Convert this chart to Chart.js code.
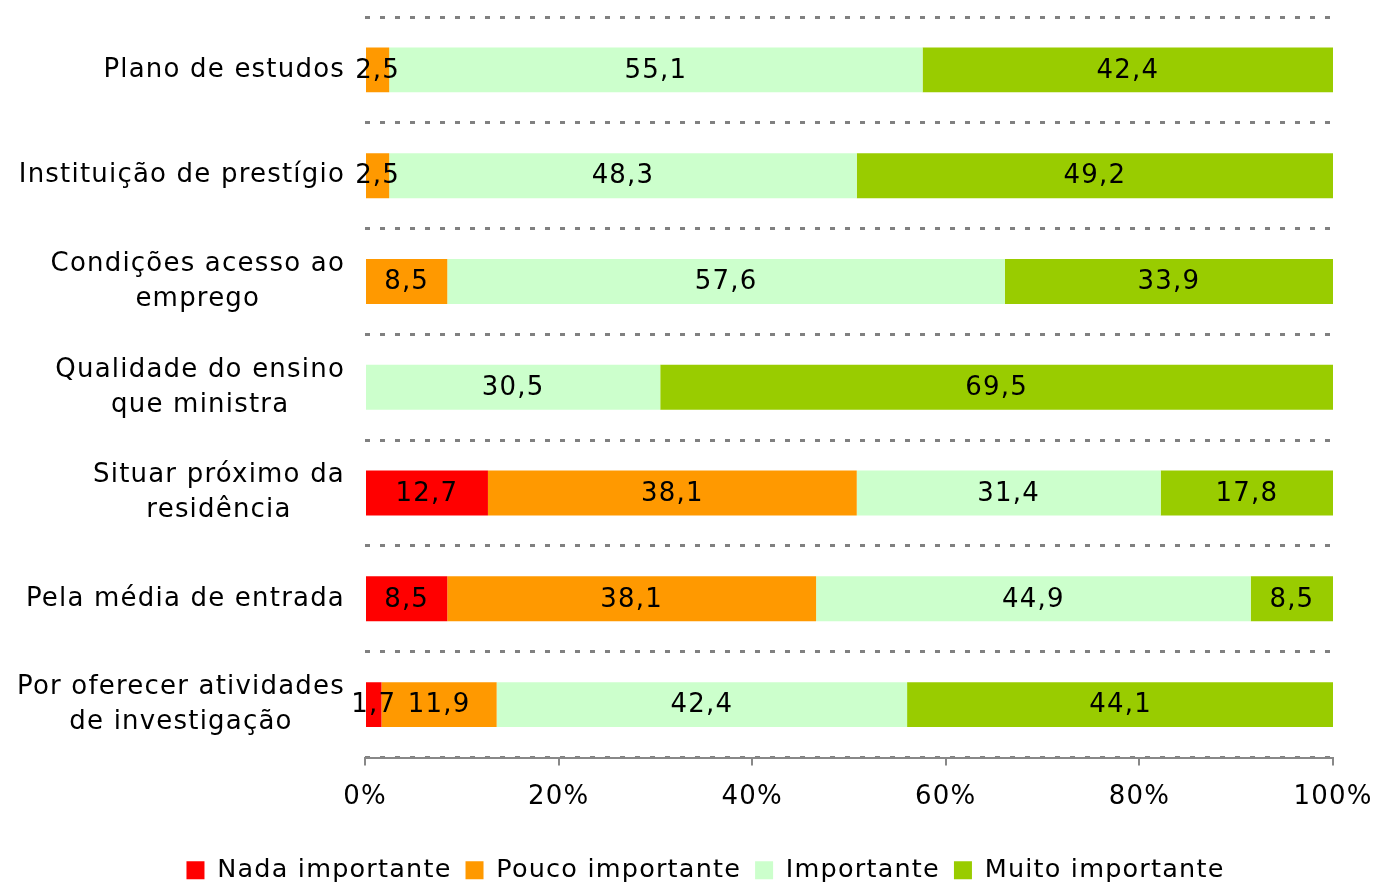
<!DOCTYPE html>
<html>
<head>
<meta charset="utf-8">
<script src="https://cdn.jsdelivr.net/npm/chart.js@4"></script>
<style>
  html, body { margin: 0; padding: 0; background: #fff; overflow: hidden; }
  #wrap { width: 1377px; height: 883px; }
</style>
</head>
<body>
<div id="wrap"><canvas id="chart"></canvas></div>
<script>
// categories (multi-line labels) and the share of answers per level (%)
const categories = [
    ['Plano de estudos'],
    ['Instituição de prestígio'],
    ['Condições acesso ao', 'emprego'],
    ['Qualidade do ensino', 'que ministra'],
    ['Situar próximo da', 'residência'],
    ['Pela média de entrada'],
    ['Por oferecer atividades', 'de investigação']
];
const seriesNames = ['Nada importante', 'Pouco importante', 'Importante', 'Muito importante'];
const nada = [0, 0, 0, 0, 12.7, 8.5, 1.7];
const pouco = [2.5, 2.5, 8.5, 0, 38.1, 38.1, 11.9];
const importante = [55.1, 48.3, 57.6, 30.5, 31.4, 44.9, 42.4];
const muito = [42.4, 49.2, 33.9, 69.5, 17.8, 8.5, 44.1];
const xTicks = [0, 20, 40, 60, 80, 100];

const colors = ['#FF0000', '#FF9900', '#CCFFCC', '#99CC00'];
const FONT = "'DejaVu Sans', Verdana, sans-serif";

// spacing like the original's Verdana text
const spacing = {
    id: 'spacing',
    beforeUpdate(chart) { chart.ctx.letterSpacing = '1.2px'; },
    beforeDraw(chart) { chart.ctx.letterSpacing = '1.2px'; },
    afterLayout(chart) {
        // the legend sits a little right of the canvas centre
        chart.legend.left += 39;
        chart.legend.right += 39;
    }
};

// value labels in the middle of each segment, comma decimals
const valueLabels = {
    id: 'valueLabels',
    afterDatasetsDraw(chart) {
        const ctx = chart.ctx;
        ctx.save();
        ctx.font = '26px ' + FONT;
        ctx.fillStyle = '#000';
        ctx.textAlign = 'center';
        ctx.textBaseline = 'middle';
        chart.data.datasets.forEach((ds, i) => {
            const meta = chart.getDatasetMeta(i);
            meta.data.forEach((bar, j) => {
                const v = ds.data[j];
                if (!v) return;
                const x = (bar.x + bar.base) / 2;
                ctx.fillText(v.toFixed(1).replace('.', ','), x, bar.y + 1);
            });
        });
        ctx.restore();
    }
};

// category labels: block right-aligned to the axis, lines centred in the block
const categoryLabels = {
    id: 'categoryLabels',
    afterDraw(chart) {
        const ctx = chart.ctx;
        const y = chart.scales.y;
        const right = chart.chartArea.left - 20;
        const lh = 35;
        ctx.save();
        ctx.font = '26px ' + FONT;
        ctx.fillStyle = '#000';
        ctx.textAlign = 'center';
        ctx.textBaseline = 'middle';
        categories.forEach((lines, i) => {
            const cy = y.getPixelForTick(i);
            const w = Math.max(...lines.map(l => ctx.measureText(l).width));
            const cx = right - w / 2;
            lines.forEach((l, k) => {
                ctx.fillText(l, cx, cy + (k - (lines.length - 1) / 2) * lh);
            });
        });
        ctx.restore();
    }
};

const data = {
    labels: categories.map(c => c.join(' ')),
    datasets: [nada, pouco, importante, muito].map((vals, i) => ({
        label: seriesNames[i],
        data: vals,
        backgroundColor: colors[i],
        borderWidth: 0,
        barPercentage: 0.425,
        categoryPercentage: 1
    }))
};

new Chart(document.getElementById('chart'), {
    type: 'bar',
    data: data,
    plugins: [spacing, valueLabels, categoryLabels],
    options: {
        indexAxis: 'y',
        responsive: true,
        maintainAspectRatio: false,
        animation: false,
        layout: { padding: { top: 17, right: 44, bottom: -10, left: 0 } },
        scales: {
            x: {
                stacked: true,
                min: 0,
                max: 100,
                afterBuildTicks: s => { s.ticks = xTicks.map(v => ({ value: v })); },
                ticks: {
                    color: '#000',
                    font: { family: FONT, size: 26 },
                    padding: 16,
                    maxRotation: 0,
                    callback: v => v + '%'
                },
                grid: {
                    drawOnChartArea: false,
                    drawTicks: true,
                    tickLength: 8,
                    color: '#888',
                    lineWidth: 2
                },
                border: { display: true, color: '#888', width: 2 },
                afterFit: s => {
                    s.height = 86;
                    s.paddingLeft = 0;
                    s.paddingRight = 0;
                }
            },
            y: {
                stacked: true,
                ticks: { display: false },
                grid: {
                    offset: true,
                    drawTicks: false,
                    color: '#808080',
                    lineWidth: 3
                },
                border: { display: false, dash: [5, 10] },
                afterFit: s => { s.width = 365; }
            }
        },
        plugins: {
            legend: {
                position: 'bottom',
                labels: {
                    color: '#000',
                    font: { family: FONT, size: 25.5 },
                    boxWidth: 18,
                    boxHeight: 18,
                    padding: 14
                }
            },
            tooltip: { enabled: false }
        }
    }
});
</script>
</body>
</html>
